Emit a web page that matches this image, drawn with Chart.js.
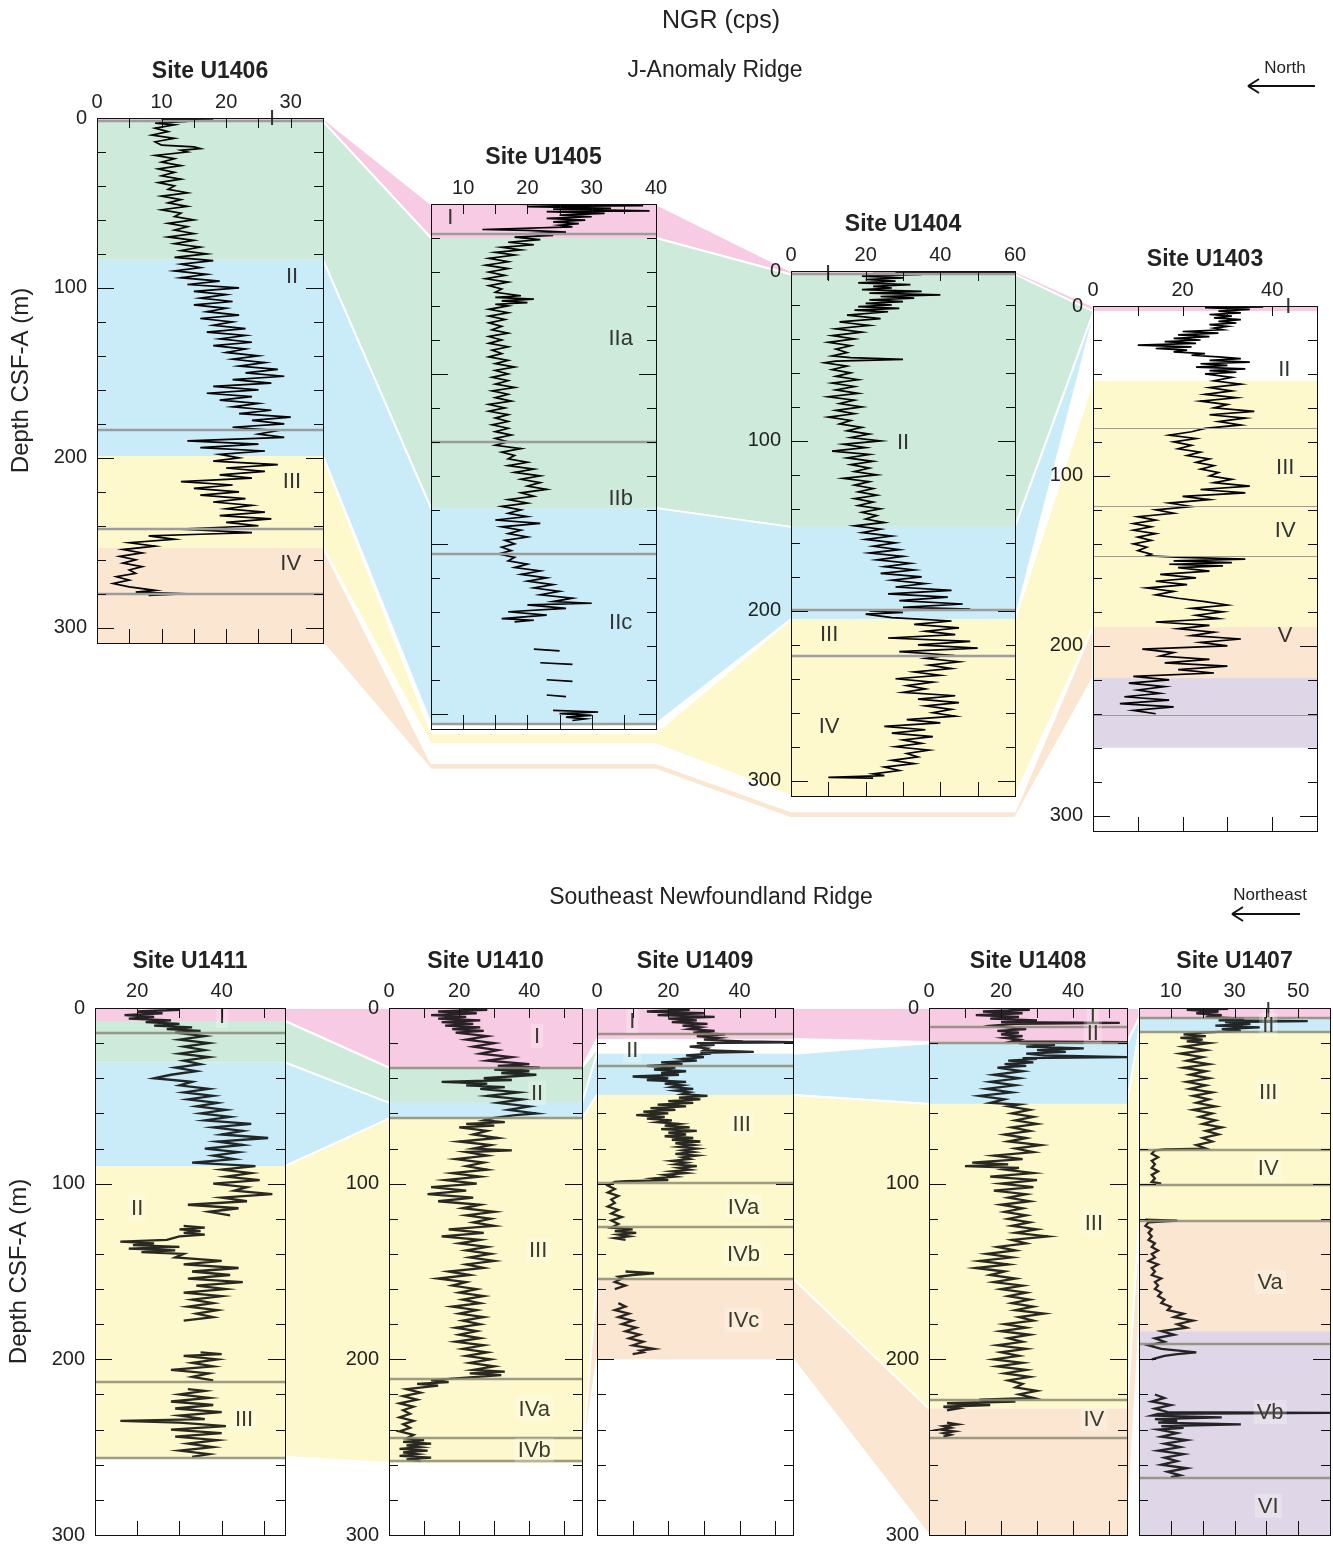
<!DOCTYPE html>
<html>
<head>
<meta charset="utf-8">
<title>NGR (cps)</title>
<script src="https://cdn.jsdelivr.net/npm/chart.js@4.4.1/dist/chart.umd.min.js"></script>
<style>
  body { margin: 0; background: #fff; }
  #page { position: relative; width: 1333px; height: 1547px; overflow: hidden;
          font-family: "Liberation Sans", Arial, sans-serif; color: #222; }
  #page canvas { position: absolute; }
  .lbl { position: absolute; white-space: nowrap; transform: translate(-50%, -50%); }
</style>
</head>
<body>
<div id="page">
  <canvas id="links" width="1333" height="1547" style="left:0;top:0"></canvas>
  <div class="lbl" style="left:721px;top:19px;font-size:25px">NGR (cps)</div>
  <div class="lbl" style="left:715px;top:69px;font-size:23px">J-Anomaly Ridge</div>
  <div class="lbl" style="left:1285px;top:68px;font-size:17px">North</div>
  <div class="lbl" style="left:711px;top:896px;font-size:23px">Southeast Newfoundland Ridge</div>
  <div class="lbl" style="left:1270px;top:895px;font-size:17px">Northeast</div>
</div>
<script>
// ---- NGR records: [depth CSF-A (m), NGR (cps)], null = no data ----
var ngrU1406 = [[0,11],[0.5,18],[1,10],[2,14],[3,9],[4,12],[6,9],[8,11],[10,8.5],[12,12],[14,9],[16,10],[17,15],[18,16],[19,13],[20,14],[22,9],[24,12],[26,10],[28,13],
  [30,9.5],[32,12],[34,10],[36,13],[38,9.5],[40,12],[42,11],[44,14],[46,10],[48,13],[50,11],[52,14],[54,10],[56,13],[58,12],[60,15],[62,11],[64,14],[66,12],[68,15],
  [70,11],[72,15],[74,12],[76,16],[78,13],[80,17],[82,12],[84,18],[86,13],[88,16],[90,12],[92,17],[94,13],[96,19],[98,14],[100,22],[102,15],[104,20],[106,16],[108,21],
  [110,15],[112,20],[114,17],[116,22],[118,16],[120,21],[122,18],[124,23],[126,17],[128,23],[130,19],[132,24],[134,18],[136,23],[138,20],[140,25],[142,21],[144,26],[146,22],[148,28],
  [150,23],[152,29],[154,21],[156,27],[158,18],[160,25],[162,17],[164,24],[166,19],[168,25],[170,21],[172,27],[174,22],[176,30],[178,24],[180,29],[182,21],[184,28],[186,25],[188,29],
  [190,14],[192,25],[194,16],[196,26],[198,19],[200,22],[202,18],[204,28],[206,20],[208,26],[210,19],[212,24],[214,13],[216,21],[218,15],[220,22],[222,16],[224,23],[226,18],[228,24],
  [230,20],[232,26],[234,19],[236,27],[238,20],[240,25],[242,13],[244,24],[245,16],[246,8],[248,12],[250,5],[252,9],[254,4],[256,7],[258,3.5],[260,6],[262,4],[264,7],[266,5],
  [268,6],[270,3],[272,5],[274,2.5],[276,5],[278,9],[279,6],[280,14],[281,8]];

var ngrU1405 = [[0,15],[1,38],[1.5,20],[2.5,33],[3,24],[4,39],[4.5,23],[5.5,32],[6.5,25],[7.5,30],[8.5,23],[9.5,29],[10.5,24],[11.5,28],[12.5,25],[13.5,27],[15,13],[15.5,20],[16.5,26],[17.5,20],
  [18.5,24],[19.5,18],[21,22],[22.5,17],[24,21],[25.5,16],[27,19],[28.5,15],[30,18],[32,14],[34,17],[36,13.5],[38,17],[40,14],[42,16.5],[44,13.5],[46,17],[48,14],[50,16],[52,15],
  [54,19],[55,15],[56,21],[57,16],[58,20],[59,15],[60,17],[62,14],[64,17],[66,14],[68,16.5],[70,14],[72,16],[74,14.5],[76,17],[78,14],[80,16],[82,14],[84,17],[86,14.5],
  [88,16],[90,14],[92,17],[94,15],[96,18],[98,15],[100,17],[102,14.5],[104,17],[106,15],[108,18],[110,14.5],[112,17],[114,15],[116,17.5],[118,14],[120,16.5],[122,14],[124,17],[126,15],
  [128,17],[130,14.5],[132,17],[134,15],[136,17.5],[138,15],[140,17],[142,15],[144,19],[146,16],[148,18],[150,17],[152,20],[154,17],[156,21],[158,18],[160,22],[162,19],[164,22],[166,20],
  [168,23],[170,19],[172,21],[174,17],[176,20],[178,16],[180,19],[182,17],[184,20],[186,15],[188,22],[190,16],[192,19],[194,17],[196,20],[198,16.5],[200,18],[202,16],[204,17.5],[206,15.5],
  [208,18],[210,17],[212,20],[214,18],[216,22],[218,19],[220,23],[222,20],[224,24],[226,21],[228,25],[230,22],[232,27],[234,24],[235,30],[236,20],[238,26],[240,17],[242,23],[244,16],
  [245,21],[246,18],[247,null],[262,21],[263,25],[264,null],[270,22],[271,27],[272,null],[280,23],[281,27],[282,null],[289,23],[290,26],[291,null],
  [298,24],[299,31],[300,25],[301,30],[302,26],[303,29],[304,27]];

var ngrU1404 = [[0.5,28],[1,60],[1.5,22],[2,35],[3,19],[4,30],[5,20],[6,28],[7,18],[8,32],[9,22],[10,27],[11,19],[12,35],[13,21],[14,40],[15,24],[16,33],[17,21],[18,30],
  [19,20],[20,27],[21,18],[22,29],[23,17],[24,26],[26,15],[28,24],[30,13],[32,21],[34,12],[36,19],[38,11],[40,17],[42,10],[44,16],[46,12],[48,15],[50,11],[51,16],
  [52,30],[53,12],[54,9],[56,15],[58,11],[60,16],[62,12],[64,18],[66,11],[68,17],[70,12],[72,18],[74,10],[76,17],[78,13],[80,19],[82,12],[84,17],[86,10],[88,16],
  [90,13],[92,19],[94,15],[96,21],[98,16],[100,24],[102,14],[104,20],[106,11],[108,21],[110,15],[112,22],[114,16],[116,21],[118,17],[120,23],[122,14],[124,21],[126,17],[128,22],
  [130,18],[132,23],[134,17],[136,22],[138,18],[140,24],[142,19],[144,23],[146,20],[148,25],[150,17],[152,24],[154,19],[156,27],[158,20],[160,28],[162,22],[164,29],[166,21],[168,30],
  [170,23],[172,32],[174,25],[176,33],[178,24],[180,35],[182,27],[184,36],[186,28],[188,43],[190,26],[192,42],[194,29],[196,46],[198,30],[199,48],[200,21],[201,30],[202,20],[204,27],
  [206,43],[208,33],[210,45],[212,36],[214,44],[216,26],[218,48],[220,34],[222,50],[224,29],[226,42],[228,36],[230,45],[232,37],[234,43],[236,33],[238,40],[240,28],[242,38],[244,31],
  [246,36],[248,30],[250,44],[252,34],[254,45],[256,36],[258,43],[260,38],[262,44],[264,31],[266,40],[268,25],[270,36],[272,27],[274,38],[276,30],[278,35],[280,28],[282,37],[284,31],
  [286,34],[288,27],[290,33],[292,25],[294,29],[296,22],[297,25],[298,10],[298.5,22]];

var ngrU1403 = [[0,27],[0.5,38],[1,25],[2,35],[3,28],[4,33],[5,26],[6,31],[7,27],[8,33],[9,28],[10,32],[11,26],[12,30],[13,27],[14,29],[15,20],[16,28],[17,19],[18,26],
  [19,18],[20,24],[21,16],[22,23],[23,10],[24,22],[25,14],[26,21],[27,18],[28,25],[29,22],[30,28],[31,33],[32,26],[33,35],[34,24],[35,30],[36,23],[37,34],[38,26],
  [39,32],[40,25],[42,31],[44,27],[46,33],[48,26],[50,31],[52,25],[54,32],[56,24],[58,30],[60,27],[62,36],[64,26],[66,34],[68,28],[70,33],[72,25],[74,22],[76,17],
  [78,23],[80,18],[82,22],[84,19],[86,24],[88,21],[90,26],[92,23],[94,27],[96,24],[98,28],[100,26],[102,31],[104,27],[106,35],[108,24],[110,34],[112,20],[114,26],[116,17],
  [118,22],[120,14],[122,18],[124,10],[126,14],[128,9],[130,13],[132,9],[134,14],[136,10],[138,13],[140,9],[142,12],[144,10],[146,13],[147,12],[148,20],[149,34],[150,18],[151,31],
  [152,17],[153,29],[154,19],[156,26],[158,15],[160,23],[162,14],[164,21],[166,12],[168,18],[170,14],[172,19],[174,25],[176,30],[178,22],[180,29],[182,23],[184,28],[186,14],[188,26],
  [190,19],[192,27],[194,22],[196,33],[198,24],[200,30],[202,11],[204,18],[206,15],[208,26],[210,16],[212,30],[214,19],[216,27],[218,9],[220,17],[222,8],[224,16],[226,10],[228,15],
  [230,7],[232,17],[234,6],[236,18],[238,9],[240,14]];

var ngrU1411 = [[0,27],[1,30],[2,20],[3,26],[4,17],[5,24],[6,18],[7,28],[8,22],[9,30],[10,24],[11,33],[12,27],[13,35],[14,29],[16,36],[18,30],[20,37],[22,31],[24,36],
  [26,30],[28,37],[30,31],[32,35],[34,29],[36,34],[38,28],[40,24],[42,33],[44,30],[46,37],[48,31],[50,38],[52,32],[54,39],[56,34],[58,41],[60,35],[62,42],[64,36],
  [66,47],[68,38],[70,45],[72,40],[74,51],[76,39],[78,45],[80,36],[82,44],[84,38],[86,43],[88,33],[90,48],[92,40],[94,47],[96,41],[98,49],[100,38],[102,46],[104,43],
  [106,52],[108,40],[110,46],[112,32],[114,44],[116,37],[118,42],[119,null],[124,31],[125,36],[126,30],[127,35],[128,31],[129,36],[130,30],[132,27],[133,16],[134,24],[135,19],[136,30],
  [137,18],[138,29],[139,21],[140,31],[142,29],[144,40],[146,31],[148,44],[150,33],[152,42],[154,32],[156,45],[158,34],[160,41],[162,31],[164,40],[166,33],[168,38],[170,32],[172,39],
  [174,34],[176,38],[178,31],[179,null],[196,35],[197,40],[198,31],[200,39],[202,33],[204,38],[206,28],[208,37],[210,33],[212,38],[213,null],[217,32],[218,36],[220,30],[222,37],[224,28],
  [226,38],[228,29],[230,40],[232,30],[234,36],[235,16],[236,30],[238,41],[240,28],[242,40],[244,29],[246,39],[248,32],[250,38],[252,30],[254,37],[255.5,33]];

var ngrU1410 = [[0,20],[1,28],[2,14],[3,25],[4,12],[5,22],[6,14],[7,26],[8,15],[9,24],[10,16],[11,26],[12,18],[13,27],[14,19],[16,28],[18,22],[20,30],[22,24],[24,31],
  [26,26],[28,35],[30,28],[32,40],[33,31],[34,43],[35,30],[36,40],[37,32],[38,42],[40,27],[41,35],[42,15],[43,28],[44,22],[45,33],[46,26],[48,37],[50,28],[52,38],
  [54,31],[56,40],[58,34],[60,42],[61,36],[62.5,30],[64,27],[65,33],[66,22],[67,30],[68,20],[70,28],[72,24],[74,31],[76,20],[78,29],[80,24],[81,35],[82,22],[84,28],
  [86,19],[88,27],[90,22],[92,28],[94,18],[96,26],[98,16],[100,25],[102,12],[104,22],[106,11],[108,24],[110,14],[112,26],[114,21],[116,30],[118,22],[120,29],[122,24],[124,30],
  [126,17],[128,27],[130,15],[132,26],[134,20],[136,28],[138,22],[140,29],[142,23],[144,30],[146,22],[148,27],[150,17],[152,23],[154,14],[156,22],[158,18],[160,25],[162,20],[164,27],
  [166,21],[168,26],[170,18],[172,25],[174,20],[176,27],[178,21],[180,26],[182,19],[184,25],[186,20],[188,26],[190,19],[192,27],[194,21],[196,28],[198,22],[200,29],[202,23],[204,30],
  [206,24],[207,33],[208,23],[209,32],[210,25],[211,18],[212,12],[213,17],[214,8],[215,14],[217,5],[219,9],[221,4],[223,8],[225,3],[227,7],[229,4],[231,6],[233,3],[235,7],
  [237,4],[239,6],[241,3],[243,7],[245,5],[246,10],[247,4],[248,12],[249,5],[250,9],[251,3],[252,11],[253,4],[254,8],[255,3],[256,12],[257,5],[258,9]];

var ngrU1409 = [[0,20],[1,26],[2,14],[3,30],[4,17],[5,33],[6,20],[7,28],[8,21],[9,31],[10,24],[11,29],[12,26],[13,33],[14,27],[15,36],[16,28],[17,34],[18,30],[19,41],
  [19.5,55],[20,28],[21,33],[22,26],[23,31],[24,30],[25,44],[25.5,29],[26,32],[27,25],[28,30],[29,24],[30,28],[31,18],[32,24],[33,14],[34,22],[35,16],[36,25],[37,18],
  [38,23],[39,10],[40,20],[41,14],[42,25],[43,19],[44,24],[45,21],[46,27],[47,22],[48,26],[49,24],[50,31],[51,23],[52,29],[53,20],[54,27],[55,17],[56,25],[57,15],
  [58,22],[59,13],[60,20],[61,11],[62,19],[63,14],[64,21],[65,17],[66,23],[67,19],[68,26],[69,18],[70,28],[71,20],[72,25],[73,19],[74,27],[75,21],[76,29],[77,22],
  [78,27],[79,23],[80,28],[81,24],[82,27],[83,22],[84,28],[85,24],[86,26],[87,21],[88,25],[89,22],[90,28],[91,23],[92,26],[93,21],[94,25],[95,19],[96,22],[97,16],
  [98,20],[98.5,8],[99,5],[101,3],[103,5],[105,3],[107,6],[109,4],[111,5],[113,3],[115,6],[117,4],[119,7],[121,4],[123,6],[125,4],[126,10],[127,5],[128,11],[129,6],
  [130,9],[131,5],[132,8],[133,null],[150,8],[151,16],[152,10],[153,6],[154,7],[156,5],[158,8],[160,5],[161,null],[168,6],[170,8],[172,5],[174,9],[176,6],[178,10],[180,7],
  [182,11],[184,8],[186,12],[188,9],[190,13],[192,10],[194,16],[195,12],[196,13],[197,10]];

var ngrU1408 = [[0,22],[1,28],[2,15],[3,26],[4,13],[5,25],[6,17],[7,30],[8,20],[8.5,53],[9,24],[10,18],[11,22],[12,27],[13,19],[14,25],[15,20],[16,26],[17,21],[18,25],
  [19,23],[19.5,55],[20,25],[21,35],[22,27],[23,43],[24,30],[25,38],[26,27],[27,32],[28,55],[28.5,26],[29,30],[30,22],[31,29],[32,21],[33,27],[34,19],[36,26],[38,18],
  [40,25],[42,17],[44,24],[46,16],[48,23],[50,14],[52,21],[54,17],[55,25],[56,22],[58,28],[60,23],[62,29],[64,24],[66,30],[68,23],[70,28],[72,21],[74,27],[76,22],
  [78,31],[80,24],[82,29],[84,18],[86,26],[88,12],[89,22],[90,10],[91,25],[92,21],[94,29],[96,17],[98,30],[100,20],[102,29],[104,18],[106,27],[108,22],[110,28],[112,20],
  [114,26],[116,21],[118,27],[120,22],[122,28],[124,23],[126,30],[128,24],[130,33],[132,23],[134,27],[136,19],[138,24],[140,16],[142,23],[144,14],[146,22],[148,13],[150,21],[152,17],
  [154,24],[156,18],[158,26],[160,20],[162,27],[164,22],[166,28],[168,23],[170,29],[172,24],[174,32],[176,25],[178,29],[180,21],[182,27],[184,20],[186,28],[188,22],[190,26],[192,19],
  [194,27],[196,20],[198,25],[200,18],[202,26],[204,19],[206,27],[208,21],[210,28],[212,22],[214,26],[216,24],[218,30],[220,25],[222,29],[223,14],[224,24],[225,5],[226,17],[227,4],
  [228,8],[229,5],[230,null],[236,5],[237,8],[238,4],[239,6],[240,3],[241,7],[242,4],[243,6],[244,4]];

var ngrU1407 = [[0,22],[0.5,28],[1,15],[2,25],[3,18],[4,26],[5,21],[6,33],[7,25],[7.5,53],[8,27],[9,35],[10,24],[11,38],[12,26],[13,32],[14,20],[15,14],[16,21],[17,13],
  [18,20],[19,15],[20,22],[22,14],[24,21],[26,13],[28,20],[30,15],[32,22],[34,14],[36,21],[38,16],[40,22],[42,15],[44,21],[46,16],[48,23],[50,17],[52,22],[54,18],
  [56,24],[58,17],[60,23],[62,19],[64,24],[66,20],[68,26],[70,21],[72,25],[74,20],[76,23],[78,18],[80,21],[80.5,8],[81,5],[83,4],[85,6],[87,4],[89,5],[91,4],
  [93,6],[95,4],[97,5],[99,4],[100,7],[100.5,null],[120.5,2],[121,12],[122,3],[124,2],[126,4],[128,3],[130,4],[132,3],[134,5],[136,4],[138,6],[140,4],[142,5],[144,3],
  [146,6],[148,4],[150,5],[152,4],[154,7],[156,5],[158,6],[160,5],[162,7],[164,6],[166,8],[168,7],[170,10],[172,9],[174,14],[176,11],[178,17],[180,12],[182,15],[184,7],
  [186,11],[188,5],[190,8],[192,3],[194,7],[196,18],[197,12],[198,8],[200,4],[201,null],[220,5],[222,8],[224,4],[226,10],[228,5],[230,9],[230.5,60],[231,6],[232,4],[233,26],
  [234,5],[235,12],[236,6],[237,32],[238,7],[239,14],[240,6],[242,12],[244,7],[246,15],[248,8],[250,13],[252,6],[254,14],[256,8],[258,12],[260,7],[262,15],[264,9],[266,13],[267,10]];

// ---- lithologic units: [unit colour, top (m), bottom (m)] ----
var unitsU1406 = [['pink',0,2],['green',2,83.5],['blue',83.5,199],['yellow',199,253],['orange',253,309]];
var unitsU1405 = [['pink',0,20],['green',20,179],['blue',179,306]];
var unitsU1404 = [['pink',0,2],['green',2,150.6],['blue',150.6,205],['yellow',205,309]];
var unitsU1403 = [['pink',0,3],['yellow',44,189],['orange',189,219],['purple',219,260]];
var unitsU1411 = [['pink',0,7.4],['green',7.4,31],['blue',31,90],['yellow',90,255.6]];
var unitsU1410 = [['pink',0,34],['green',34,54],['blue',54,63],['yellow',63,259]];
var unitsU1409 = [['pink',0,17.6],['blue',26,49.5],['yellow',49.5,154],['orange',154,200]];
var unitsU1408 = [['pink',0,19.4],['blue',20,54.6],['yellow',54.6,228],['orange',228,300]];
var unitsU1407 = [['pink',0,5.7],['blue',5.7,13.7],['yellow',13.7,121],['orange',121,184],['purple',184,300]];

// ---- unit / subunit boundaries (m) ----
var boundsU1406 = [1.5,183.5,242,280];
var boundsU1405 = [17.6,140,206,306];
var boundsU1404 = [1.5,199.4,226.5];
var boundsU1403 = [72,118,147,241];
var boundsU1411 = [14,213,256];
var boundsU1410 = [34,62.6,211,244.5,258];
var boundsU1409 = [15,33,99.6,124.6,154];
var boundsU1408 = [11,20,223,245];
var boundsU1407 = [5.7,13.7,81,101,121,191,267.5];

// ---- correlation bands between sites: [site, edge, top (m), bottom (m)] ----
var pinkTop = [['U1406','R',0,2],['U1405','L',0,20],['U1405','R',0,20],['U1404','L',0,2],['U1404','R',0,2],['U1403','L',0,3]];
var greenTop = [['U1406','R',2,83.5],['U1405','L',20,179],['U1405','R',20,179],['U1404','L',2,150.6],['U1404','R',2,150.6],['U1403','L',3,4.5]];
var blueTop = [['U1406','R',83.5,199],['U1405','L',179,306],['U1405','R',179,306],['U1404','L',150.6,205],['U1404','R',150.6,205],['U1403','L',4.5,8]];
var yellowTop = [['U1406','R',199,253],['U1405','L',311,318],['U1405','R',311,318],['U1404','L',205,309],['U1404','R',205,309],['U1403','L',44,189]];
var orangeTop = [['U1406','R',253,309],['U1405','L',329,333],['U1405','R',329,333],['U1404','L',318,322],['U1404','R',318,322],['U1403','L',189,219]];

var pinkBottom = [['U1411','R',0,7.4],['U1410','L',0,34],['U1410','R',0,34],['U1409','L',0,17.6],['U1409','R',0,17.6],['U1408','L',0,19.4],['U1408','R',0,19.4],['U1407','L',0,5.7]];
var greenBottom = [['U1411','R',7.4,31],['U1410','L',34,54],['U1410','R',34,54],['U1409','L',23,26]];
var blueBottom = [['U1411','R',31,90],['U1410','L',54,63],['U1410','R',54,63],['U1409','L',26,49.5],['U1409','R',26,49.5],['U1408','L',20,54.6],['U1408','R',20,54.6],['U1407','L',5.7,13.7]];
var orangeBottom = [['U1410','R',248,259],['U1409','L',154,200],['U1409','R',154,200],['U1408','L',228,300],['U1408','R',228,300],['U1407','L',121,184]];
var yellowBottom = [['U1411','R',90,255.6],['U1410','L',63,259],['U1410','R',63,259],['U1409','L',49.5,154],['U1409','R',49.5,154],['U1408','L',54.6,228],['U1408','R',54.6,228],['U1407','L',13.7,121]];

// ---- look ----
var colors = { pink: '#f8cbe5', green: '#cdeadb', blue: '#caecf8', yellow: '#fdf9cd', orange: '#fbe6d1', purple: '#dfd7e8' };
var FONT = '"Liberation Sans", Arial, sans-serif';
Chart.defaults.font.family = FONT;
Chart.defaults.color = '#222';

// y-axis band width, x-axis band height, right/bottom room for edge labels
var YW = 92, XH = 60, PADR = 20, PADB = 26;

// box = [left, top, width, height] of the plot frame on the page
var sites = [
  { id: 'U1406', data: ngrU1406, units: unitsU1406, bounds: boundsU1406, row: 'top', box: [97,118,226,525], depthMax: 309,
    x: [0,35,5], showX: function (v) { return v % 10 === 0; }, yLabels: true, yTitle: true,
    names: [['I',27.1,0],['II',30.2,93],['III',30.2,213.5],['IV',30,262]] },
  { id: 'U1405', data: ngrU1405, units: unitsU1405, bounds: boundsU1405, row: 'top', box: [431,204,225,525], depthMax: 309,
    x: [5,40,5], showX: function (v) { return v % 10 === 0; }, yLabels: false,
    names: [['I',8,7.6],['IIa',34.5,79],['IIb',34.5,173],['IIc',34.5,246]] },
  { id: 'U1404', data: ngrU1404, units: unitsU1404, bounds: boundsU1404, row: 'top', box: [791,271,224,525], depthMax: 309,
    x: [0,60,10], showX: function (v) { return v % 20 === 0; }, yLabels: true,
    names: [['I',9.9,1.2],['II',30,100.6],['III',10.2,213.5],['IV',10.2,267.6]] },
  { id: 'U1403', data: ngrU1403, units: unitsU1403, bounds: boundsU1403, row: 'top', box: [1093,306,224,525], depthMax: 309, thin: true,
    x: [0,50,10], showX: function (v) { return v % 20 === 0; }, yLabels: true,
    names: [['I',43.6,0],['II',42.7,37],['III',42.9,94.7],['IV',42.9,132],['V',42.9,193.5]] },
  { id: 'U1411', data: ngrU1411, units: unitsU1411, bounds: boundsU1411, row: 'bottom', box: [95,1008,190,527], depthMax: 300,
    x: [10,55,10], showX: function (v) { return v % 20 === 0; }, yLabels: true, yTitle: true,
    names: [['I',40.1,4.6],['II',20,113.8],['III',45.3,234]] },
  { id: 'U1410', data: ngrU1410, units: unitsU1410, bounds: boundsU1410, row: 'bottom', box: [389,1008,193,527], depthMax: 300,
    x: [0,55,10], showX: function (v) { return v % 20 === 0; }, yLabels: true,
    names: [['I',42.2,16],['II',42.2,48.4],['III',42.5,137.7],['IVa',41.4,228],['IVb',41.4,251.6]] },
  { id: 'U1409', data: ngrU1409, units: unitsU1409, bounds: boundsU1409, row: 'bottom', box: [597,1008,196,527], depthMax: 300,
    x: [0,55,10], showX: function (v) { return v % 20 === 0; }, yLabels: false,
    names: [['I',9.9,7.4],['II',9.9,24],['III',40.6,66],['IVa',41.1,113],['IVb',41.1,140],['IVc',41.1,177.6]] },
  { id: 'U1408', data: ngrU1408, units: unitsU1408, bounds: boundsU1408, row: 'bottom', box: [929,1008,198,527], depthMax: 300,
    x: [0,55,10], showX: function (v) { return v % 20 === 0; }, yLabels: true,
    names: [['I',45.5,4.6],['II',45.5,14.2],['III',45.8,122.4],['IV',45.8,234]] },
  { id: 'U1407', data: ngrU1407, units: unitsU1407, bounds: boundsU1407, row: 'bottom', box: [1139,1008,191,527], depthMax: 300,
    x: [0,60,10], showX: function (v) { return v % 20 === 10; }, yLabels: false,
    names: [['I',40.6,1.1],['II',40.6,9.7],['III',40.6,47.8],['IV',40.6,91],['Va',41.2,156],['Vb',41.2,230],['VI',40.6,283.4]] }
];

function seg(ctx, x0, y0, x1, y1) { ctx.beginPath(); ctx.moveTo(x0, y0); ctx.lineTo(x1, y1); ctx.stroke(); }

function panelPlugin(s) {
  var top = s.row === 'top';
  return {
    id: 'panel' + s.id,
    beforeDatasetsDraw: function (chart) {
      var ctx = chart.ctx, a = chart.chartArea, y = chart.scales.y;
      ctx.save();
      s.units.forEach(function (u) {
        var y0 = y.getPixelForValue(u[1]), y1 = y.getPixelForValue(u[2]);
        ctx.fillStyle = colors[u[0]];
        ctx.fillRect(a.left, y0, a.right - a.left, y1 - y0);
      });
      ctx.restore();
    },
    afterDatasetsDraw: function (chart) {
      var ctx = chart.ctx, a = chart.chartArea, x = chart.scales.x, y = chart.scales.y;
      ctx.save();
      ctx.strokeStyle = top ? '#9c9c9c' : 'rgba(140,140,118,0.85)';
      ctx.lineWidth = s.thin ? 1 : 2.5;
      s.bounds.forEach(function (d) {
        var py = Math.round(y.getPixelForValue(d)) + (s.thin ? 0.5 : 0);
        seg(ctx, a.left, py, a.right, py);
      });
      ctx.font = '22px ' + FONT;
      ctx.textAlign = 'center';
      ctx.textBaseline = 'middle';
      s.names.forEach(function (n) {
        var px = x.getPixelForValue(n[1]), py = y.getPixelForValue(n[2]);
        if (!top) {
          var w = ctx.measureText(n[0]).width;
          ctx.fillStyle = 'rgba(255,255,255,0.25)';
          ctx.fillRect(px - w / 2 - 3, py - 12, w + 6, 24);
        }
        ctx.fillStyle = top ? '#333' : '#3d3b2c';
        ctx.fillText(n[0], px, py + 1);
      });
      ctx.restore();
    },
    afterDraw: function (chart) {
      var ctx = chart.ctx, a = chart.chartArea, x = chart.scales.x, y = chart.scales.y;
      ctx.save();
      ctx.strokeStyle = '#111';
      ctx.lineWidth = 1;
      x.ticks.forEach(function (t) {
        if (t.value <= x.min || t.value >= x.max) return;
        var px = Math.round(x.getPixelForValue(t.value)) + 0.5;
        seg(ctx, px, a.top, px, a.top + 10);
        seg(ctx, px, a.bottom, px, a.bottom - 14);
      });
      y.ticks.forEach(function (t) {
        if (t.value <= 0) return;
        var py = Math.round(y.getPixelForValue(t.value)) + 0.5;
        var len = t.value % 100 === 0 ? 17 : 9;
        seg(ctx, a.left, py, a.left + len, py);
        seg(ctx, a.right, py, a.right - len, py);
      });
      ctx.strokeRect(Math.round(a.left) + 0.5, Math.round(a.top) + 0.5, Math.round(a.right - a.left), Math.round(a.bottom - a.top));
      ctx.restore();
    }
  };
}

var page = document.getElementById('page');
var charts = {};

sites.forEach(function (s) {
  var top = s.row === 'top';
  var cv = document.createElement('canvas');
  cv.width = YW + s.box[2] + PADR;
  cv.height = XH + s.box[3] + PADB;
  cv.style.left = (s.box[0] - YW) + 'px';
  cv.style.top = (s.box[1] - XH) + 'px';
  page.appendChild(cv);
  charts[s.id] = new Chart(cv, {
    type: 'scatter',
    data: {
      datasets: [{
        data: s.data.map(function (r) { return { x: r[1], y: r[0] }; }),
        showLine: true,
        borderColor: top ? '#000' : 'rgba(0,0,0,0.84)',
        borderWidth: top ? 1.7 : 2.3,
        pointRadius: 0,
        tension: 0,
        spanGaps: false
      }]
    },
    options: {
      responsive: false, maintainAspectRatio: false, animation: false, events: [], devicePixelRatio: 1,
      layout: { padding: { left: 0, top: 0, right: PADR, bottom: PADB } },
      plugins: { legend: { display: false }, tooltip: { enabled: false } },
      scales: {
        x: {
          type: 'linear', position: 'top', min: s.x[0], max: s.x[1],
          grid: { display: false, drawTicks: false }, border: { display: false },
          ticks: { stepSize: s.x[2], includeBounds: false, autoSkip: false, maxRotation: 0,
                   padding: top ? 4 : 5, font: { size: 20 }, color: '#222',
                   callback: function (v) { return s.showX(v) ? v : ''; } },
          title: { display: true, text: 'Site ' + s.id, font: { size: 23, weight: 'bold' }, color: '#222', padding: { top: 0, bottom: 0 } },
          afterFit: function (sc) { sc.height = XH; }
        },
        y: {
          type: 'linear', reverse: true, min: 0, max: s.depthMax,
          grid: { display: false, drawTicks: false }, border: { display: false },
          ticks: { display: s.yLabels, stepSize: 20, includeBounds: false, autoSkip: false,
                   padding: 10, font: { size: 20 }, color: '#222',
                   callback: function (v) { return v % 100 === 0 ? v : ''; } },
          title: { display: !!s.yTitle, text: 'Depth CSF-A (m)', font: { size: 24 }, color: '#222', padding: { top: 2, bottom: 0 } },
          afterFit: function (sc) { sc.width = YW; }
        }
      }
    },
    plugins: [panelPlugin(s)]
  });
});

// ---- correlation bands drawn behind the panels, through each panel's depth scale ----
var lctx = document.getElementById('links').getContext('2d');

function edgePoint(stop, depth) {
  var ch = charts[stop[0]];
  var a = ch.chartArea;
  var ox = parseFloat(ch.canvas.style.left), oy = parseFloat(ch.canvas.style.top);
  return [ox + (stop[1] === 'L' ? a.left : a.right), oy + ch.scales.y.getPixelForValue(depth)];
}

function band(stops, color) {
  var pts = stops.map(function (st) { return edgePoint(st, st[2]); });
  var back = stops.slice().reverse().map(function (st) { return edgePoint(st, st[3]); });
  pts = pts.concat(back);
  lctx.beginPath();
  pts.forEach(function (p, i) { if (i === 0) lctx.moveTo(p[0], p[1]); else lctx.lineTo(p[0], p[1]); });
  lctx.closePath();
  lctx.fillStyle = color;
  lctx.fill();
  lctx.strokeStyle = '#fff';
  lctx.lineWidth = 2;
  lctx.stroke();
}

band(pinkTop, colors.pink);
band(greenTop, colors.green);
band(blueTop, colors.blue);
band(yellowTop, colors.yellow);
band(orangeTop, colors.orange);

band(pinkBottom, colors.pink);
band(greenBottom, colors.green);
band(blueBottom, colors.blue);
band(orangeBottom, colors.orange);
band(yellowBottom, colors.yellow);

// direction arrows
function arrow(x0, x1, y) {
  lctx.strokeStyle = '#111';
  lctx.lineWidth = 2;
  seg(lctx, x0, y, x1, y);
  seg(lctx, x1, y, x1 + 11, y - 7);
  seg(lctx, x1, y, x1 + 11, y + 7);
}
arrow(1315, 1248, 86);
arrow(1300, 1232, 914);
</script>
</body>
</html>
